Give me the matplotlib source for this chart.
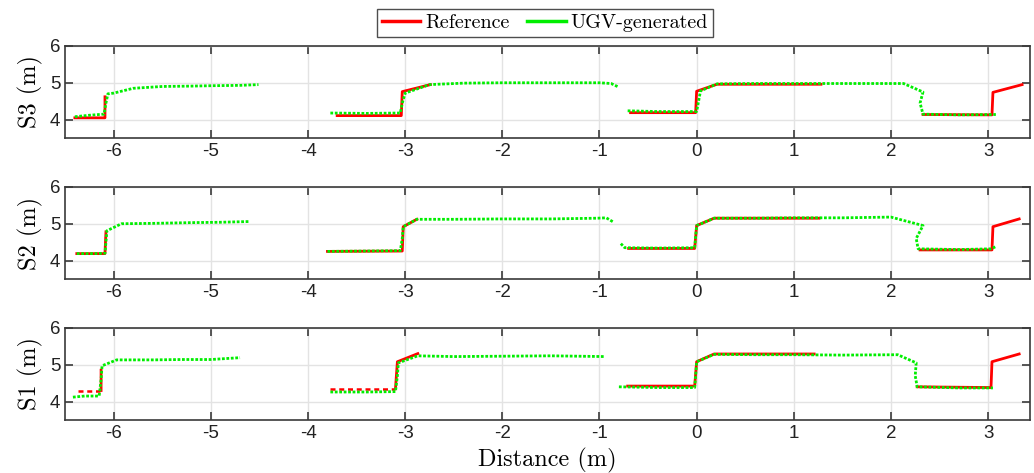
import numpy as np
import matplotlib
matplotlib.use("Agg")
import matplotlib.pyplot as plt
from matplotlib.lines import Line2D

nan = np.nan

# panel names, top to bottom
panels = ["S3", "S2", "S1"]

# reference path (red), segments split by nan
s3_ref_x = [-6.40, -6.09, -6.09, nan, -3.70, -3.04, -3.03, -2.74, nan,
            -0.68, -0.01, 0.00, 0.21, 1.28, nan, 2.33, 3.04, 3.05, 3.35]
s3_ref_y = [4.05, 4.05, 4.62, nan, 4.11, 4.11, 4.76, 4.95, nan,
            4.19, 4.19, 4.77, 4.96, 4.96, nan, 4.14, 4.13, 4.74, 4.95]
s2_ref_x = [-6.38, -6.09, -6.08, nan, -3.80, -3.03, -3.02, -2.88, nan,
            -0.70, -0.02, 0.00, 0.18, 1.26, nan, 2.30, 3.04, 3.05, 3.32]
s2_ref_y = [4.19, 4.19, 4.78, nan, 4.25, 4.26, 4.92, 5.12, nan,
            4.33, 4.33, 4.95, 5.15, 5.15, nan, 4.29, 4.29, 4.92, 5.13]
s1_ref_x = [-6.13, -6.13, nan, -3.10, -3.08, -2.87, nan,
            -0.71, -0.02, 0.00, 0.18, 1.21, nan, 2.27, 3.03, 3.04, 3.32]
s1_ref_y = [4.30, 4.85, nan, 4.35, 5.08, 5.30, nan,
            4.42, 4.42, 5.08, 5.29, 5.29, nan, 4.40, 4.38, 5.08, 5.29]
# dashed stretches of the reference in S1
s1_ref_dash_x = [-6.37, -6.14, nan, -3.77, -3.10]
s1_ref_dash_y = [4.30, 4.30, nan, 4.35, 4.35]

# UGV-generated profile (green)
s3_ugv_x = [-6.40, -6.25, -6.10, -6.08, -6.06, -6.00, -5.80, -5.50, -5.20, -5.00, -4.70, -4.51, nan,
            -3.77, -3.40, -3.05, -3.03, -3.00, -2.75, -2.40, -2.00, -1.50, -1.00, -0.88, -0.80, nan,
            -0.71, -0.40, 0.00, 0.02, 0.04, 0.21, 0.60, 1.00, 1.50, 2.13, 2.33, 2.30, 2.33, 2.70, 3.08]
s3_ugv_y = [4.08, 4.12, 4.15, 4.45, 4.70, 4.72, 4.85, 4.90, 4.91, 4.92, 4.93, 4.95, nan,
            4.18, 4.17, 4.18, 4.45, 4.72, 4.95, 4.99, 5.00, 5.00, 5.00, 4.98, 4.88, nan,
            4.24, 4.22, 4.22, 4.50, 4.78, 4.97, 4.98, 4.98, 4.98, 4.98, 4.75, 4.45, 4.15, 4.13, 4.14]
s2_ugv_x = [-6.38, -6.20, -6.09, -6.08, -6.07, -5.92, -5.60, -5.20, -4.90, -4.60, nan,
            -3.80, -3.40, -3.05, -3.03, -3.02, -2.88, -2.50, -2.00, -1.50, -1.02, -0.93, -0.86, nan,
            -0.78, -0.74, -0.40, -0.02, -0.01, 0.00, 0.18, 0.60, 1.00, 1.50, 2.00, 2.33, 2.26, 2.28,
            2.70, 3.03, 3.08]
s2_ugv_y = [4.19, 4.19, 4.20, 4.50, 4.81, 5.00, 5.01, 5.03, 5.04, 5.06, nan,
            4.25, 4.26, 4.27, 4.60, 4.92, 5.12, 5.12, 5.13, 5.13, 5.15, 5.16, 5.05, nan,
            4.46, 4.35, 4.34, 4.35, 4.65, 4.95, 5.15, 5.15, 5.16, 5.16, 5.18, 4.95, 4.60, 4.32,
            4.30, 4.32, 4.38]
s1_ugv_x = [-6.42, -6.30, -6.15, -6.13, -6.12, -5.97, -5.60, -5.30, -5.00, -4.70, nan,
            -3.77, -3.40, -3.10, -3.08, -3.07, -2.87, -2.50, -2.00, -1.50, -0.94, nan,
            -0.80, -0.40, -0.02, -0.01, 0.00, 0.18, 0.60, 1.00, 1.50, 2.07, 2.26, 2.25, 2.27, 2.70, 3.05]
s1_ugv_y = [4.12, 4.15, 4.15, 4.60, 4.97, 5.13, 5.13, 5.14, 5.14, 5.19, nan,
            4.26, 4.26, 4.27, 4.70, 5.05, 5.24, 5.22, 5.23, 5.24, 5.22, nan,
            4.40, 4.38, 4.38, 4.70, 5.08, 5.28, 5.27, 5.27, 5.26, 5.27, 5.05, 4.70, 4.40, 4.37, 4.37]

x_ticks = [-6, -5, -4, -3, -2, -1, 0, 1, 2, 3]
y_ticks = [4, 5, 6]

ref_x = {"S3": s3_ref_x, "S2": s2_ref_x, "S1": s1_ref_x}
ref_y = {"S3": s3_ref_y, "S2": s2_ref_y, "S1": s1_ref_y}
ugv_x = {"S3": s3_ugv_x, "S2": s2_ugv_x, "S1": s1_ugv_x}
ugv_y = {"S3": s3_ugv_y, "S2": s2_ugv_y, "S1": s1_ugv_y}

plt.rcParams["axes.unicode_minus"] = False
serif = ["cmr10", "DejaVu Serif"]
sans = ["Liberation Sans", "DejaVu Sans"]
RED = "#ff0000"
GREEN = "#00ee00"
SPINE = "#3a3a3a"

fig = plt.figure(figsize=(10.34, 4.73), dpi=100)
bottoms = [0.708, 0.410, 0.112]
for name, b in zip(panels, bottoms):
    ax = fig.add_axes([0.063, b, 0.933, 0.195])
    ax.plot(ref_x[name], ref_y[name], color=RED, lw=2.0, zorder=2)
    if name == "S1":
        ax.plot(s1_ref_dash_x, s1_ref_dash_y, color=RED, lw=1.8,
                linestyle=(0, (2, 1.5)), zorder=2)
    ax.plot(ugv_x[name], ugv_y[name], color=GREEN, lw=2.0,
            linestyle=(0, (1, 0.6)), zorder=3)
    ax.set_xlim(-6.5, 3.43)
    ax.set_ylim(3.5, 6)
    ax.set_xticks(x_ticks)
    ax.set_yticks(y_ticks)
    ax.grid(True, color="#e3e3e3", lw=1.0, zorder=0)
    ax.set_axisbelow(True)
    ax.tick_params(direction="in", length=6, width=1.2, color=SPINE,
                   top=True, right=True, labelsize=13.5, labelcolor="#222222")
    for lab in ax.get_xticklabels() + ax.get_yticklabels():
        lab.set_family(sans)
    for sp in ax.spines.values():
        sp.set_color(SPINE)
        sp.set_linewidth(1.2)
    ax.set_ylabel(name + " (m)", family=serif, fontsize=17.5, labelpad=5)
    if name == "S1":
        ax.set_xlabel("Distance (m)", family=serif, fontsize=17.5, labelpad=4)

handles = [Line2D([], [], color=RED, lw=2.5), Line2D([], [], color=GREEN, lw=2.5)]
leg = fig.legend(handles, ["Reference", "UGV-generated"], loc="center",
                 bbox_to_anchor=(0.527, 0.952), ncol=2, frameon=True, fancybox=False,
                 edgecolor="#222222", prop={"family": serif, "size": 14.5},
                 handlelength=1.9, handletextpad=0.25, columnspacing=0.9,
                 borderpad=0.25)
leg.get_frame().set_linewidth(1.0)

fig.savefig("out.png", dpi=100)
